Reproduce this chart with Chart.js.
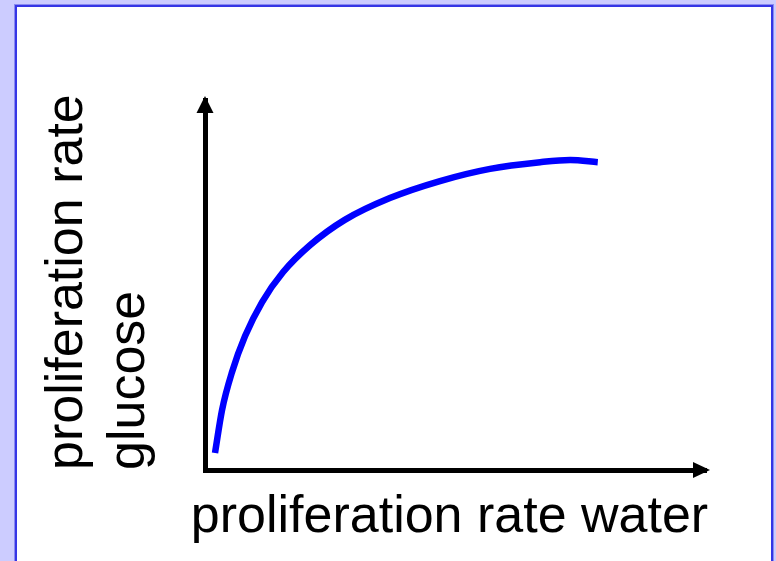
<!DOCTYPE html>
<html>
<head>
  <title>Proliferation rate</title>
  <script src="https://cdn.jsdelivr.net/npm/chart.js"></script>
  <style>
    body {
      margin: 0;
      background: #ccccff;
      width: 776px;
      height: 561px;
      overflow: hidden;
    }
    .frame {
      position: absolute;
      left: 15px;
      top: 5px;
      width: 754px;
      height: 600px;
      background: #ffffff;
      border: 2px solid #3535e6;
      box-shadow: 0 0 0 1px #8a8af0;
    }
    .container {
      position: absolute;
      left: 0;
      top: 0;
      width: 776px;
      height: 561px;
    }
  </style>
</head>
<body>
  <div class="frame"></div>
  <div class="container">
    <canvas id="chart"></canvas>
  </div>

  <script>
    // Curve (arbitrary units, axes run 0..10)
    const xValues = [0.20, 0.34, 0.54, 0.80, 1.14, 1.56, 2.10, 2.79, 3.69, 4.69, 5.69, 6.69, 7.29, 7.84];
    const yValues = [0.46, 1.62, 2.65, 3.62, 4.54, 5.35, 6.08, 6.76, 7.35, 7.81, 8.14, 8.32, 8.38, 8.32];
    const xTitle = 'proliferation rate water';
    const yTitle = ['proliferation rate', 'glucose'];

    const points = xValues.map((x, i) => ({ x: x, y: yValues[i] }));
    const fontFamily = '"Liberation Sans", Arial, sans-serif';

    // Arrow heads at the ends of both axes, and the x title
    // (the built-in x title gets squeezed to the axis width, so it is drawn here)
    const axisPlugin = {
      id: 'arrows',
      afterDraw(chart) {
        const ctx = chart.ctx;
        const area = chart.chartArea;
        ctx.save();
        ctx.fillStyle = '#000000';
        // up arrow on the y axis
        ctx.beginPath();
        ctx.moveTo(area.left, area.top - 4);
        ctx.lineTo(area.left - 8.5, area.top + 13);
        ctx.lineTo(area.left + 8.5, area.top + 13);
        ctx.closePath();
        ctx.fill();
        // right arrow on the x axis
        ctx.beginPath();
        ctx.moveTo(area.right + 4, area.bottom);
        ctx.lineTo(area.right - 13, area.bottom - 8);
        ctx.lineTo(area.right - 13, area.bottom + 8);
        ctx.closePath();
        ctx.fill();
        // x axis title
        ctx.font = '52px ' + fontFamily;
        ctx.textAlign = 'center';
        ctx.textBaseline = 'alphabetic';
        ctx.fillText(xTitle, (area.left + area.right) / 2 - 6, area.bottom + 62);
        ctx.restore();
      }
    };

    new Chart(document.getElementById('chart').getContext('2d'), {
      type: 'line',
      data: {
        datasets: [{
          data: points,
          borderColor: '#0000ff',
          borderWidth: 6.5,
          pointRadius: 0,
          fill: false,
          cubicInterpolationMode: 'monotone'
        }]
      },
      options: {
        responsive: true,
        maintainAspectRatio: false,
        animation: false,
        layout: { padding: { left: 0, top: 100, right: 70, bottom: 0 } },
        plugins: {
          legend: { display: false },
          tooltip: { enabled: false }
        },
        scales: {
          x: {
            type: 'linear',
            min: 0,
            max: 10,
            grid: { display: false, drawTicks: false },
            border: { display: true, color: '#000000', width: 5 },
            ticks: { display: false },
            title: { display: false },
            afterFit(scale) { scale.height = 91; }
          },
          y: {
            min: 0,
            max: 10,
            grid: { display: false, drawTicks: false },
            border: { display: true, color: '#000000', width: 5 },
            ticks: { display: false },
            title: {
              display: true,
              text: yTitle,
              align: 'start',
              color: '#000000',
              font: { family: fontFamily, size: 52, lineHeight: 1.2 },
              padding: { top: 36, bottom: 0 }
            },
            afterFit(scale) { scale.width = 205; }
          }
        }
      },
      plugins: [axisPlugin]
    });
  </script>
</body>
</html>
